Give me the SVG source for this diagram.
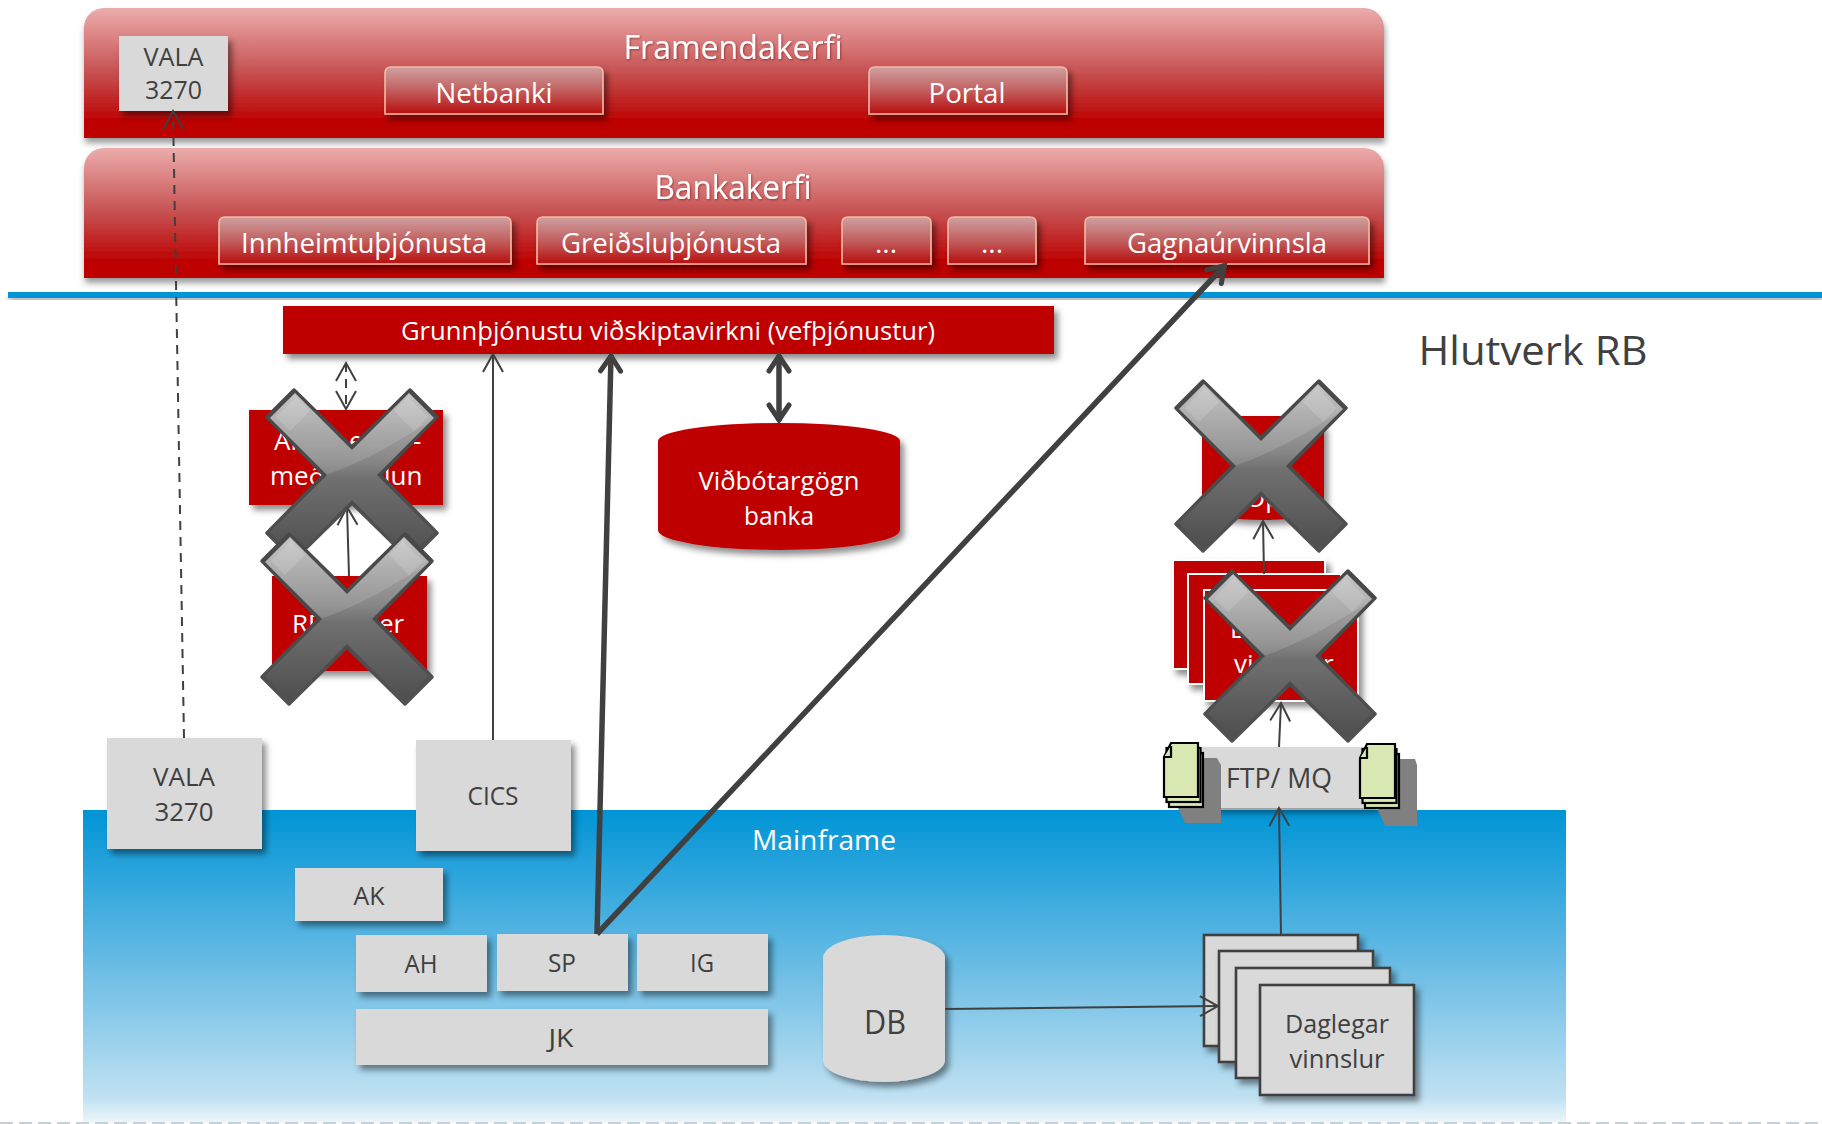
<svg xmlns="http://www.w3.org/2000/svg" xmlns:xlink="http://www.w3.org/1999/xlink" width="1822" height="1124" viewBox="0 0 1822 1124">
<style>
text{font-family:"Open Sans","Noto Sans","Liberation Sans",sans-serif;text-anchor:middle}
.w{fill:#fff}.d{fill:#404040}
.f26{font-size:26px}.f28{font-size:28px}.f32{font-size:32px}
.lft{text-anchor:start}
.gray{fill:#d9d9d9}.red{fill:#bf0000}
.panel{fill:url(#panelG)}
.btn{fill:url(#btnG);stroke:#f3b9a6;stroke-width:1.6}
.line{fill:none;stroke:#404040;stroke-width:2}
.thick{fill:none;stroke:#404040;stroke-width:5.5}
.stk{fill:#d9d9d9;stroke:#404040;stroke-width:2.6}
.rs{fill:#bf0000;stroke:#fff;stroke-width:2}
.page{fill:#d9e8b2;stroke:#000;stroke-width:2.2}
.sh{fill:#808080}
</style>
<defs>
<linearGradient id="panelG" x1="0" y1="0" x2="0" y2="1"><stop offset="0" stop-color="#ecacac"/><stop offset=".5" stop-color="#c65050"/><stop offset=".88" stop-color="#bd0000"/></linearGradient>
<linearGradient id="btnG" x1="0" y1="0" x2="0" y2="1"><stop offset="0" stop-color="#cfa0a0"/><stop offset=".5" stop-color="#c25f5f"/><stop offset="1" stop-color="#b80d0d"/></linearGradient>
<linearGradient id="mfG" x1="0" y1="0" x2="0" y2="1"><stop offset="0" stop-color="#0094d6"/><stop offset=".55" stop-color="#74c0e6"/><stop offset=".92" stop-color="#c0e1f2"/><stop offset="1" stop-color="#eef7fb"/></linearGradient>
<linearGradient id="xG" x1="0" y1="0" x2="0" y2="1"><stop offset="0" stop-color="#bcbcbc"/><stop offset=".42" stop-color="#868686"/><stop offset=".52" stop-color="#707070"/><stop offset="1" stop-color="#4e4e4e"/></linearGradient>
<linearGradient id="xB" x1="0" y1="0" x2="0" y2="1"><stop offset="0" stop-color="#484848"/><stop offset=".55" stop-color="#4a4a4a"/><stop offset="1" stop-color="#525252"/></linearGradient>
<filter id="s" x="-20%" y="-20%" width="145%" height="150%"><feDropShadow dx="4" dy="5" stdDeviation="3" flood-color="#000" flood-opacity=".45"/></filter>
<filter id="s2" x="-5%" y="-20%" width="110%" height="150%"><feDropShadow dx="1" dy="5" stdDeviation="3" flood-color="#000" flood-opacity=".4"/></filter>
<filter id="ts"><feDropShadow dx="1" dy="1" stdDeviation="1" flood-color="#600" flood-opacity=".5"/></filter>
<marker id="a" viewBox="-20 -12 22 24" refX="0" refY="0" markerWidth="22" markerHeight="24" markerUnits="userSpaceOnUse" orient="auto-start-reverse"><path d="M-18,-10 L0,0 L-18,10" fill="none" stroke="#404040" stroke-width="2"/></marker>
<marker id="b" viewBox="-22 -14 25 28" refX="0" refY="0" markerWidth="25" markerHeight="28" markerUnits="userSpaceOnUse" orient="auto-start-reverse"><path d="M-16,-10 L-1,0 L-16,10" fill="none" stroke="#404040" stroke-width="5" stroke-linecap="round" stroke-linejoin="miter"/></marker>
<clipPath id="xc"><path d="M-57,-82 L0,-25 L57,-82 L82,-57 L25,0 L82,57 L57,82 L0,25 L-57,82 L-82,57 L-25,0 L-82,-57 Z"/></clipPath>
<g id="xmark">
<path d="M-58,-85 L0,-28 L58,-85 L85,-58 L28,0 L85,58 L58,85 L0,28 L-58,85 L-85,58 L-28,0 L-85,-58 Z" fill="url(#xB)" stroke="url(#xB)" stroke-width="3.500" stroke-linejoin="round"/>
<path d="M-57,-82 L0,-25 L57,-82 L82,-57 L25,0 L82,57 L57,82 L0,25 L-57,82 L-82,57 L-25,0 L-82,-57 Z" fill="url(#xG)"/>
<g clip-path="url(#xc)"><path d="M-90,-90 H90 V-60 L32,-26 Q2,-10 -26,0 L-90,-58 Z" fill="#fff" opacity=".13"/>
<path d="M-56,-78 L-76,-58 L-62,-44 L-42,-64 Z M56,-78 L76,-58 L62,-44 L42,-64 Z" fill="#fff" opacity=".14"/></g>
</g>
</defs>
<rect width="1822" height="1124" fill="#fff"/>

<g id="mainframe"><rect x="83" y="810" width="1483" height="313" fill="url(#mfG)"/><text class="w f28" x="824" y="850" textLength="144" lengthAdjust="spacingAndGlyphs">Mainframe</text></g>
<line id="bottom-rule" x1="0" y1="1123" x2="1822" y2="1123" stroke="#c9d0d3" stroke-width="2" stroke-dasharray="13 6"/>

<g id="framendakerfi"><path class="panel" filter="url(#s2)" d="M84,138 V28 A20,20 0 0 1 104,8 H1364 A20,20 0 0 1 1384,28 V138 Z"/><text class="w f32" filter="url(#ts)" x="733" y="59" textLength="219" lengthAdjust="spacingAndGlyphs">Framendakerfi</text></g>
<g id="vala-top"><rect class="gray" filter="url(#s)" x="119" y="36" width="109" height="75"/><text class="d f26" x="173.500" y="66" textLength="60" lengthAdjust="spacingAndGlyphs">VALA</text><text class="d f26" x="173.500" y="99" textLength="57" lengthAdjust="spacingAndGlyphs">3270</text></g>
<g id="netbanki"><path class="btn" filter="url(#s)" d="M385,114 V73 Q385,67 391,67 H597 Q603,67 603,73 V114 Z"/><text class="w f28" x="494" y="103" textLength="117" lengthAdjust="spacingAndGlyphs">Netbanki</text></g>
<g id="portal"><path class="btn" filter="url(#s)" d="M869,114 V73 Q869,67 875,67 H1061 Q1067,67 1067,73 V114 Z"/><text class="w f28" x="967" y="103" textLength="77" lengthAdjust="spacingAndGlyphs">Portal</text></g>

<g id="bankakerfi"><path class="panel" filter="url(#s2)" d="M84,278 V168 A20,20 0 0 1 104,148 H1364 A20,20 0 0 1 1384,168 V278 Z"/><text class="w f32" filter="url(#ts)" x="733" y="199" textLength="157" lengthAdjust="spacingAndGlyphs">Bankakerfi</text></g>
<g id="innheimtu"><path class="btn" filter="url(#s)" d="M219,264 V223 Q219,217 225,217 H505 Q511,217 511,223 V264 Z"/><text class="w f28" x="364" y="253" textLength="246" lengthAdjust="spacingAndGlyphs">Innheimtuþjónusta</text></g>
<g id="greidslu"><path class="btn" filter="url(#s)" d="M537,264 V223 Q537,217 543,217 H800 Q806,217 806,223 V264 Z"/><text class="w f28" x="671" y="253" textLength="220" lengthAdjust="spacingAndGlyphs">Greiðsluþjónusta</text></g>
<g id="dots1"><path class="btn" filter="url(#s)" d="M842,264 V223 Q842,217 848,217 H925 Q931,217 931,223 V264 Z"/><text class="w f28" x="886" y="253">...</text></g>
<g id="dots2"><path class="btn" filter="url(#s)" d="M948,264 V223 Q948,217 954,217 H1030 Q1036,217 1036,223 V264 Z"/><text class="w f28" x="992" y="253">...</text></g>
<g id="gagna"><path class="btn" filter="url(#s)" d="M1085,264 V223 Q1085,217 1091,217 H1363 Q1369,217 1369,223 V264 Z"/><text class="w f28" x="1227" y="253" textLength="200" lengthAdjust="spacingAndGlyphs">Gagnaúrvinnsla</text></g>

<rect id="blue-rule" filter="url(#s2)" x="8" y="292" width="1814" height="6" fill="#0094d6"/>
<text id="hlutverk" class="d" style="font-size:41px" x="1533" y="365" textLength="229" lengthAdjust="spacingAndGlyphs">Hlutverk RB</text>

<g id="grunn"><rect class="red" filter="url(#s)" x="283" y="306" width="771" height="48"/><text class="w f26" x="668" y="340" textLength="534" lengthAdjust="spacingAndGlyphs">Grunnþjónustu viðskiptavirkni (vefþjónustur)</text></g>
<g id="vidbotargogn"><path class="red" filter="url(#s)" d="M658,441 A121,18 0 0 1 900,441 V530 A121,20 0 0 1 658,530 Z"/><text class="w f26" x="779" y="490" textLength="161" lengthAdjust="spacingAndGlyphs">Viðbótargögn</text><text class="w f26" x="779" y="525" textLength="70" lengthAdjust="spacingAndGlyphs">banka</text></g>

<g id="afgreidsla"><rect class="red" filter="url(#s)" x="249" y="410" width="194" height="95"/><text class="w f26 lft" x="274" y="450">Al</text><text class="w f26 lft" x="349" y="450">e</text><text class="w f26 lft" x="413" y="450">-</text><text class="w f26 lft" x="270" y="485">með</text><text class="w f26 lft" x="384" y="485">lun</text></g>
<g id="rd"><rect class="red" filter="url(#s)" x="272" y="576" width="155" height="95"/><text class="w f26 lft" x="292" y="633">RD</text><text class="w f26 lft" x="379" y="633">er</text></g>

<g id="op"><path class="red" filter="url(#s)" d="M1202,432 Q1202,416 1222,416 H1304 Q1324,416 1324,432 V506 Q1324,516 1300,518 Q1263,522 1226,518 Q1202,516 1202,506 Z"/><text class="w f26 lft" x="1245" y="507">Op</text></g>
<g id="red-stack"><rect class="rs" filter="url(#s)" x="1173" y="560" width="152" height="109"/><rect class="rs" filter="url(#s)" x="1188" y="574" width="153" height="110"/><rect class="rs" filter="url(#s)" x="1204" y="590" width="154" height="111"/><text class="w f26 lft" x="1230" y="638">D</text><text class="w f26 lft" x="1234" y="673">vi</text><text class="w f26 lft" x="1323" y="673">r</text></g>

<g id="ftp"><rect class="gray" filter="url(#s2)" x="1200" y="747" width="178" height="61"/><text class="d f28" x="1279" y="788" textLength="106" lengthAdjust="spacingAndGlyphs">FTP/ MQ</text></g>
<path id="ftp-shadow-left" class="sh" d="M1203,758 H1217 L1221,765 V823 H1185 L1178,808 Z"/>
<path id="ftp-shadow-right" class="sh" d="M1400,759 H1415 L1417,765 V826 H1385 L1378,810 Z"/>
<g id="docs-left"><rect class="page" x="1169" y="753" width="34" height="54"/><rect class="page" x="1166.500" y="748" width="34" height="54"/><path class="page" d="M1164,757 L1171,743 H1198 V797 H1164 Z"/><path class="page" d="M1164,757 H1171 V746" /></g>
<g id="docs-right"><rect class="page" x="1365" y="754" width="34" height="54"/><rect class="page" x="1362.500" y="749" width="34" height="54"/><path class="page" d="M1360,758 L1367,744 H1395 V798 H1360 Z"/><path class="page" d="M1360,758 H1367 V747"/></g>

<g id="vala-low"><rect class="gray" filter="url(#s)" x="107" y="738" width="155" height="111"/><text class="d f26" x="184" y="786" textLength="62" lengthAdjust="spacingAndGlyphs">VALA</text><text class="d f26" x="184" y="821" textLength="59" lengthAdjust="spacingAndGlyphs">3270</text></g>
<g id="cics"><rect class="gray" filter="url(#s)" x="416" y="740" width="155" height="111"/><text class="d f26" x="493" y="805" textLength="51" lengthAdjust="spacingAndGlyphs">CICS</text></g>
<g id="ak"><rect class="gray" filter="url(#s)" x="295" y="868" width="148" height="53"/><text class="d f26" x="369" y="905" textLength="31" lengthAdjust="spacingAndGlyphs">AK</text></g>
<g id="ah"><rect class="gray" filter="url(#s)" x="356" y="935" width="131" height="57"/><text class="d f26" x="421" y="973" textLength="33" lengthAdjust="spacingAndGlyphs">AH</text></g>
<g id="sp"><rect class="gray" filter="url(#s)" x="497" y="934" width="131" height="57"/><text class="d f26" x="562" y="972" textLength="28" lengthAdjust="spacingAndGlyphs">SP</text></g>
<g id="ig"><rect class="gray" filter="url(#s)" x="637" y="934" width="131" height="57"/><text class="d f26" x="702" y="972" textLength="24" lengthAdjust="spacingAndGlyphs">IG</text></g>
<g id="jk"><rect class="gray" filter="url(#s)" x="356" y="1009" width="412" height="56"/><text class="d f26" x="561" y="1047" textLength="25" lengthAdjust="spacingAndGlyphs">JK</text></g>
<g id="db"><path class="gray" filter="url(#s)" d="M823,958 A61,23 0 0 1 945,958 V1060 A61,22 0 0 1 823,1060 Z"/><text class="d f32" x="885" y="1034" textLength="42" lengthAdjust="spacingAndGlyphs">DB</text></g>
<g id="daglegar"><rect class="stk" filter="url(#s)" x="1204" y="935" width="154" height="111"/><rect class="stk" filter="url(#s)" x="1219" y="951" width="154" height="111"/><rect class="stk" filter="url(#s)" x="1236" y="968" width="154" height="110"/><rect class="stk" filter="url(#s)" x="1260" y="985" width="154" height="110"/><text class="d f26" x="1337" y="1033" textLength="104" lengthAdjust="spacingAndGlyphs">Daglegar</text><text class="d f26" x="1337" y="1068" textLength="95" lengthAdjust="spacingAndGlyphs">vinnslur</text></g>

<g id="connectors">
<line class="line" stroke-dasharray="9 7" x1="184" y1="738" x2="173" y2="111" marker-end="url(#a)"/>
<line class="line" x1="493" y1="740" x2="493" y2="354" marker-end="url(#a)"/>
<line class="thick" x1="597" y1="934" x2="611" y2="355" marker-end="url(#b)"/>
<line class="thick" x1="597" y1="934" x2="1225" y2="265" marker-end="url(#b)"/>
<line class="thick" x1="779" y1="355" x2="779" y2="421" marker-start="url(#b)" marker-end="url(#b)"/>
<line class="line" stroke-dasharray="9 7" x1="346" y1="363" x2="346" y2="409" marker-start="url(#a)" marker-end="url(#a)"/>
<line class="line" x1="349" y1="576" x2="347" y2="507" marker-end="url(#a)"/>
<line class="line" x1="1264" y1="574" x2="1263" y2="521" marker-end="url(#a)"/>
<line class="line" x1="1279" y1="747" x2="1281" y2="703" marker-end="url(#a)"/>
<line class="line" x1="1281" y1="935" x2="1279" y2="808" marker-end="url(#a)"/>
<line class="line" x1="945" y1="1009" x2="1218" y2="1006" marker-end="url(#a)"/>
</g>

<g id="cross-1"><use href="#xmark" xlink:href="#xmark" x="352" y="475"/></g>
<g id="cross-2"><use href="#xmark" xlink:href="#xmark" x="347" y="619"/></g>
<g id="cross-3"><use href="#xmark" xlink:href="#xmark" x="1261" y="466"/></g>
<g id="cross-4"><use href="#xmark" xlink:href="#xmark" x="1290" y="656"/></g>
</svg>
